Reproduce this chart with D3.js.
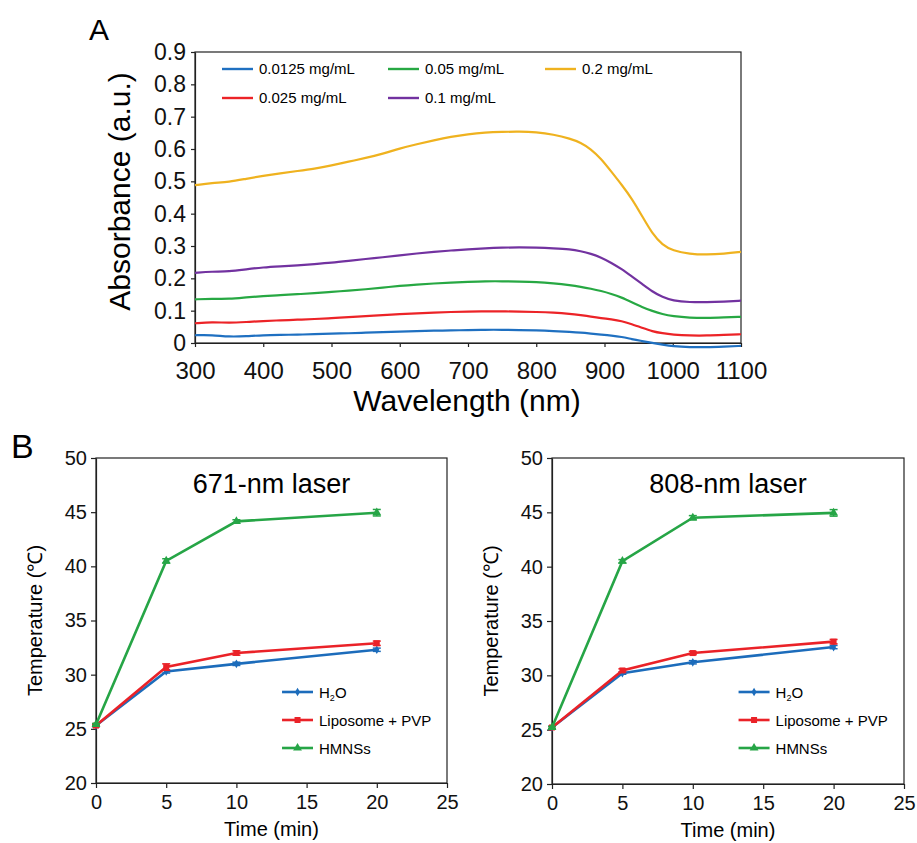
<!DOCTYPE html>
<html lang="en">
<head>
<meta charset="UTF-8">
<title>Absorbance and heating curves</title>
<script src="https://cdn.jsdelivr.net/npm/d3@7"></script>
<style>
    body { margin: 0; background: #fff; }
    svg { font-family: "Liberation Sans", Arial, sans-serif; }
    .axis path, .axis line { stroke: #222; stroke-width: 1.2; }
    .axis text { fill: #111; }
</style>
</head>
<body>
<script>
// ---- panel A data (absorbance vs wavelength) ----
var wavelengths = [300,325,350,375,400,425,450,475,500,525,550,575,600,625,650,675,700,725,750,775,800,825,850,865,880,895,910,925,940,955,970,985,1000,1025,1050,1075,1100];
var abs0125 = [0.024,0.025,0.019,0.021,0.024,0.025,0.026,0.027,0.029,0.030,0.032,0.034,0.035,0.037,0.038,0.039,0.040,0.041,0.041,0.040,0.039,0.037,0.034,0.032,0.029,0.026,0.023,0.019,0.012,0.006,0.000,-0.005,-0.010,-0.013,-0.013,-0.011,-0.009];
var abs025 = [0.061,0.065,0.062,0.065,0.068,0.070,0.072,0.074,0.077,0.080,0.083,0.086,0.089,0.092,0.094,0.096,0.097,0.098,0.098,0.097,0.096,0.094,0.090,0.086,0.082,0.077,0.073,0.068,0.058,0.047,0.036,0.030,0.026,0.023,0.023,0.025,0.027];
var abs05 = [0.135,0.137,0.136,0.141,0.145,0.148,0.151,0.154,0.158,0.162,0.166,0.171,0.177,0.181,0.184,0.187,0.189,0.191,0.191,0.190,0.189,0.185,0.179,0.174,0.168,0.161,0.152,0.141,0.126,0.111,0.099,0.089,0.083,0.078,0.077,0.079,0.081];
var abs1 = [0.217,0.221,0.221,0.228,0.234,0.237,0.240,0.244,0.248,0.254,0.260,0.265,0.271,0.277,0.282,0.286,0.290,0.293,0.295,0.296,0.295,0.293,0.290,0.284,0.276,0.265,0.248,0.229,0.206,0.183,0.159,0.142,0.131,0.126,0.126,0.128,0.131];
var abs2 = [0.488,0.495,0.498,0.508,0.517,0.525,0.532,0.539,0.549,0.561,0.572,0.585,0.602,0.615,0.627,0.638,0.646,0.651,0.653,0.654,0.652,0.645,0.632,0.620,0.600,0.570,0.530,0.490,0.447,0.393,0.338,0.303,0.286,0.275,0.273,0.276,0.282];
var concLabels = ["0.0125 mg/mL","0.025 mg/mL","0.05 mg/mL","0.1 mg/mL","0.2 mg/mL"];
var concColors = ["#1f70c1","#ec2327","#27a843","#7232a0","#efb21f"];
var absTicks = [0,0.1,0.2,0.3,0.4,0.5,0.6,0.7,0.8,0.9];
var wlTicks = [300,400,500,600,700,800,900,1000,1100];

// ---- panel B data (temperature vs time) ----
var times = [0,5,10,20];
var sampleLabels = ["H2O","Liposome + PVP","HMNSs"];
var sampleColors = ["#1c6cbb","#ea2228","#26a546"];
var temp671 = [[25.3,30.3,31.0,32.3],[25.3,30.7,32.0,32.9],[25.4,40.5,44.15,44.95]];
var err671 = [[0.1,0.15,0.15,0.15],[0.1,0.3,0.2,0.2],[0.1,0.2,0.15,0.3]];
var temp808 = [[25.2,30.2,31.2,32.6],[25.2,30.45,32.05,33.1],[25.2,40.5,44.5,44.95]];
var err808 = [[0.1,0.1,0.15,0.15],[0.1,0.15,0.15,0.2],[0.1,0.15,0.2,0.3]];
var tempTicks = [20,25,30,35,40,45,50];
var timeTicks = [0,5,10,15,20,25];

var svg = d3.select("body").append("svg")
    .attr("width", 917)
    .attr("height", 843);

// ================= panel A =================
var ax = {left: 195, right: 741, top: 52, bottom: 343};
var xA = d3.scaleLinear().domain([300,1100]).range([ax.left, ax.right]);
var yA = d3.scaleLinear().domain([0,0.9]).range([ax.bottom, ax.top]);

svg.append("text").attr("x", 89).attr("y", 40)
    .style("font-size", "30px").text("A");

var gA = svg.append("g");

gA.append("g").attr("class", "axis")
    .attr("transform", "translate(0," + ax.bottom + ")")
    .call(d3.axisBottom(xA).tickValues(wlTicks).tickSize(4).tickPadding(15).tickSizeOuter(0)
        .tickFormat(d3.format("d")))
    .selectAll("text").style("font-size", "24px");

gA.append("g").attr("class", "axis")
    .attr("transform", "translate(" + ax.left + ",0)")
    .call(d3.axisLeft(yA).tickValues(absTicks).tickSize(4).tickPadding(5).tickSizeOuter(0)
        .tickFormat(function (d) { return d === 0 ? "0" : d3.format(".1f")(d); }))
    .selectAll("text").style("font-size", "23px");

// box
gA.append("rect")
    .attr("x", ax.left).attr("y", ax.top)
    .attr("width", ax.right - ax.left).attr("height", ax.bottom - ax.top)
    .attr("fill", "none").attr("stroke", "#222").attr("stroke-width", 1.2);

var absSeries = [abs0125, abs025, abs05, abs1, abs2];
var lineA = d3.line()
    .x(function (d, i) { return xA(wavelengths[i]); })
    .y(function (d) { return yA(d); })
    .curve(d3.curveBasis);

absSeries.forEach(function (s, k) {
    gA.append("path")
        .attr("d", lineA(s))
        .attr("fill", "none")
        .attr("stroke", concColors[k])
        .attr("stroke-width", 2.2);
});

// legend A: 3 columns, 2 rows (filled column-wise)
var legA = [
    {i: 0, x: 222, y: 69}, {i: 1, x: 222, y: 98},
    {i: 2, x: 388, y: 69}, {i: 3, x: 388, y: 98},
    {i: 4, x: 545, y: 69}
];
legA.forEach(function (l) {
    gA.append("line")
        .attr("x1", l.x).attr("x2", l.x + 31)
        .attr("y1", l.y).attr("y2", l.y)
        .attr("stroke", concColors[l.i]).attr("stroke-width", 2.4);
    gA.append("text")
        .attr("x", l.x + 37).attr("y", l.y + 5)
        .style("font-size", "15px")
        .text(concLabels[l.i]);
});

gA.append("text")
    .attr("transform", "translate(130," + ((ax.top + ax.bottom) / 2 - 6) + ") rotate(-90)")
    .attr("text-anchor", "middle")
    .style("font-size", "30px")
    .text("Absorbance (a.u.)");

gA.append("text")
    .attr("x", (ax.left + ax.right) / 2 - 1).attr("y", 411)
    .attr("text-anchor", "middle")
    .style("font-size", "30px")
    .text("Wavelength (nm)");

// ================= panel B =================
svg.append("text").attr("x", 11).attr("y", 458)
    .style("font-size", "34px").text("B");

var symbols = [d3.symbolDiamond, d3.symbolSquare, d3.symbolTriangle];
var symSizes = [22, 36, 34];

function tempPanel(box, temps, errs, title) {
    var x = d3.scaleLinear().domain([0,25]).range([box.left, box.right]);
    var y = d3.scaleLinear().domain([20,50]).range([box.bottom, box.top]);
    var g = svg.append("g");

    g.append("g").attr("class", "axis")
        .attr("transform", "translate(0," + box.bottom + ")")
        .call(d3.axisBottom(x).tickValues(timeTicks).tickSize(5).tickPadding(7).tickSizeOuter(0))
        .selectAll("text").style("font-size", "20px");

    g.append("g").attr("class", "axis")
        .attr("transform", "translate(" + box.left + ",0)")
        .call(d3.axisLeft(y).tickValues(tempTicks).tickSize(5).tickPadding(4).tickSizeOuter(0))
        .selectAll("text").style("font-size", "20px");

    g.append("rect")
        .attr("x", box.left).attr("y", box.top)
        .attr("width", box.right - box.left).attr("height", box.bottom - box.top)
        .attr("fill", "none").attr("stroke", "#222").attr("stroke-width", 1.2);

    var line = d3.line()
        .x(function (d, i) { return x(times[i]); })
        .y(function (d) { return y(d); });

    temps.forEach(function (s, k) {
        g.append("path")
            .attr("d", line(s))
            .attr("fill", "none")
            .attr("stroke", sampleColors[k])
            .attr("stroke-width", 2.6);

        // error bars
        s.forEach(function (v, i) {
            var e = errs[k][i], cx = x(times[i]);
            g.append("line").attr("x1", cx).attr("x2", cx)
                .attr("y1", y(v - e)).attr("y2", y(v + e))
                .attr("stroke", sampleColors[k]).attr("stroke-width", 1.5);
            [v - e, v + e].forEach(function (w) {
                g.append("line").attr("x1", cx - 4).attr("x2", cx + 4)
                    .attr("y1", y(w)).attr("y2", y(w))
                    .attr("stroke", sampleColors[k]).attr("stroke-width", 1.5);
            });
        });

        g.selectAll(null).data(s).enter().append("path")
            .attr("transform", function (d, i) { return "translate(" + x(times[i]) + "," + y(d) + ")"; })
            .attr("d", d3.symbol().type(symbols[k]).size(symSizes[k]))
            .attr("fill", sampleColors[k]);
    });

    g.append("text")
        .attr("x", box.left + (box.right - box.left) * 0.50).attr("y", box.top + 35)
        .attr("text-anchor", "middle")
        .style("font-size", "27px")
        .text(title);

    // legend
    var lx = box.left + (box.right - box.left) * 0.53;
    sampleLabels.forEach(function (lab, k) {
        var ly = box.top + 234 + k * 28;
        g.append("line")
            .attr("x1", lx).attr("x2", lx + 31)
            .attr("y1", ly).attr("y2", ly)
            .attr("stroke", sampleColors[k]).attr("stroke-width", 2.6);
        g.append("path")
            .attr("transform", "translate(" + (lx + 15.5) + "," + ly + ")")
            .attr("d", d3.symbol().type(symbols[k]).size(symSizes[k]))
            .attr("fill", sampleColors[k]);
        var t = g.append("text")
            .attr("x", lx + 37).attr("y", ly + 5.5)
            .style("font-size", "15px");
        if (lab === "H2O") {
            t.append("tspan").text("H");
            t.append("tspan").attr("dy", 3).style("font-size", "9px").text("2");
            t.append("tspan").attr("dy", -3).text("O");
        } else {
            t.text(lab);
        }
    });

    g.append("text")
        .attr("transform", "translate(" + (box.left - 54) + "," + ((box.top + box.bottom) / 2) + ") rotate(-90)")
        .attr("text-anchor", "middle")
        .style("font-size", "20px")
        .text("Temperature (\u2103)");

    g.append("text")
        .attr("x", box.left + (box.right - box.left) * 0.5).attr("y", box.bottom + 53)
        .attr("text-anchor", "middle")
        .style("font-size", "20px")
        .text("Time (min)");
}

tempPanel({left: 96, right: 447, top: 458, bottom: 783}, temp671, err671, "671-nm laser");
tempPanel({left: 552, right: 904, top: 458, bottom: 784}, temp808, err808, "808-nm laser");
</script>
</body>
</html>
